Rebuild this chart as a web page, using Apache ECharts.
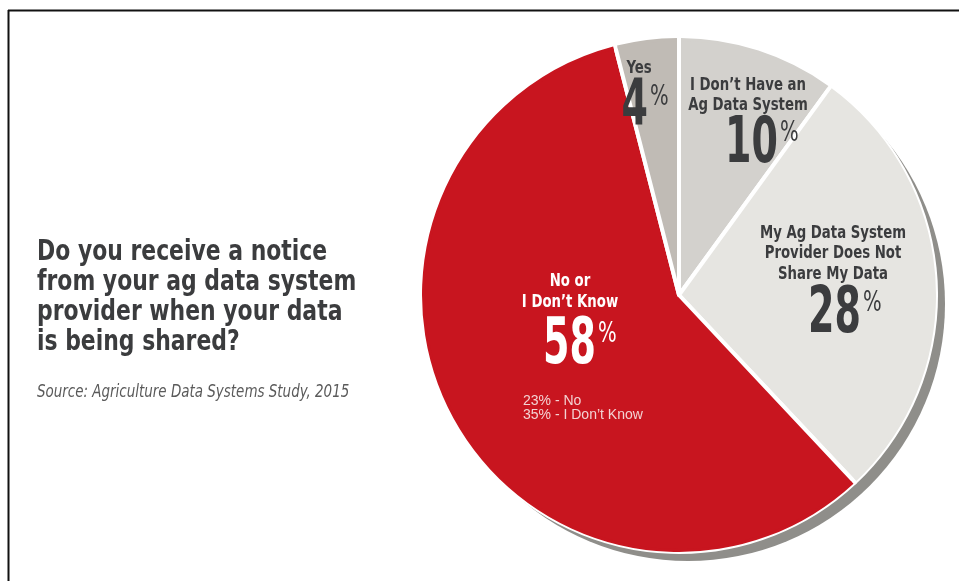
<!DOCTYPE html>
<html>
<head>
<meta charset="utf-8">
<script src="https://cdn.jsdelivr.net/npm/echarts@6/dist/echarts.min.js"></script>
<style>
  html, body { margin: 0; padding: 0; background: #fff; }
  #chart { width: 959px; height: 581px; }
</style>
</head>
<body>
<div id="chart"></div>
<script>
// data, clockwise from 12 o'clock
var names = ['I Don\u2019t Have an\nAg Data System', 'My Ag Data System\nProvider Does Not\nShare My Data', 'No or\nI Don\u2019t Know', 'Yes'];
var values = [10, 28, 58, 4];
var colors = ['#d3d1cd', '#e6e5e1', '#c8151f', '#c0bbb5'];
var breakdown = ['23% - No', '35% - I Don\u2019t Know'];

var titleLines = ['Do you receive a notice', 'from your ag data system', 'provider when your data', 'is being shared?'];
var source = 'Source: Agriculture Data Systems Study, 2015';

// where each slice's text block sits (head centre x, first head line y, number right edge x, number y)
var labelSpots = [
    { cx: 748, y: 85, gap: 20, nx: 778, ny: 145 },
    { cx: 833, y: 233, gap: 20.5, nx: 861, ny: 315 },
    { cx: 570, y: 281.5, gap: 21, nx: 596, ny: 346 },
    { cx: 639, y: 68.5, gap: 20, nx: 648, ny: 108.5 }
];

var COND = '"DejaVu Sans Condensed", "DejaVu Sans", sans-serif';
var DARK = '#3b3c3e';
var CX = 679, CY = 295, R = 257;

var myChart = echarts.init(document.getElementById('chart'));

function txt(x, y, text, font, color, align, sx) {
    return {
        type: 'text', x: x, y: y, scaleX: sx || 1, silent: true, z: 100,
        style: { text: text, font: font, fill: color, align: align || 'center', verticalAlign: 'middle' }
    };
}

var graphics = [
    { type: 'line', shape: { x1: 8, y1: 10.5, x2: 959, y2: 10.5 }, style: { stroke: '#111', lineWidth: 2 } },
    { type: 'line', shape: { x1: 8.5, y1: 10, x2: 8.5, y2: 581 }, style: { stroke: '#111', lineWidth: 2 } }
];
titleLines.forEach(function (l, i) {
    graphics.push(txt(37, 253 + i * 30, l, 'bold 28px ' + COND, DARK, 'left', 0.87));
});
graphics.push(txt(37, 393, source, 'italic 17px ' + COND, '#5a5a5a', 'left', 0.88));

values.forEach(function (v, i) {
    var s = labelSpots[i];
    var color = i === 2 ? '#ffffff' : DARK;
    names[i].split('\n').forEach(function (l, k) {
        graphics.push(txt(s.cx, s.y + k * s.gap, l, 'bold 18px ' + COND, color, 'center', 0.82));
    });
    graphics.push(txt(s.nx, s.ny, String(v), 'bold 64px ' + COND, color, 'right', 0.66));
    graphics.push(txt(s.nx + 2, s.ny - 11, '%', '28px ' + COND, color, 'left', 0.78));
});
breakdown.forEach(function (l, k) {
    graphics.push(txt(523, 401 + k * 14, l, '14px "Liberation Sans", Arial, sans-serif', '#f3d3d3', 'left', 1));
});

var pieData = values.map(function (v, i) {
    return { name: names[i], value: v, itemStyle: { color: colors[i] } };
});

var option = {
    backgroundColor: '#ffffff',
    animation: false,
    graphic: graphics,
    series: [
        {
            // grey drop shadow under the pie
            type: 'pie',
            silent: true,
            center: [CX + 9, CY + 9],
            radius: R,
            z: 1,
            label: { show: false },
            labelLine: { show: false },
            itemStyle: { color: '#8f8e8a' },
            data: [100]
        },
        {
            type: 'pie',
            silent: true,
            center: [CX, CY],
            radius: R,
            startAngle: 90,
            clockwise: true,
            z: 2,
            itemStyle: { borderColor: '#ffffff', borderWidth: 4 },
            label: { show: false },
            labelLine: { show: false },
            data: pieData
        },
        {
            // outer rim so the white slice borders do not outline the pie
            type: 'pie',
            silent: true,
            center: [CX, CY],
            radius: [R - 3, R],
            startAngle: 90,
            clockwise: true,
            padAngle: 0.9,
            z: 3,
            label: { show: false },
            labelLine: { show: false },
            data: pieData
        }
    ]
};

myChart.setOption(option);
</script>
</body>
</html>
